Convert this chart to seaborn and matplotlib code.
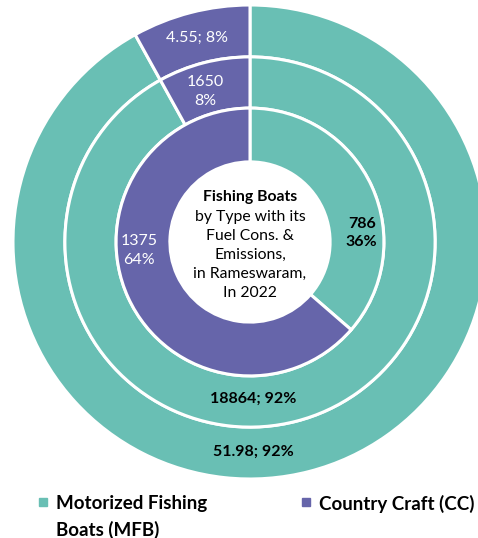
import matplotlib
matplotlib.use("Agg")
import matplotlib.pyplot as plt
from matplotlib.patches import Rectangle
import numpy as np
import seaborn as sns

sns.set_theme(style="white")
plt.rcParams["font.family"] = ["Lato", "DejaVu Sans"]

# Boat categories and ring data (outer -> inner)
categories = ["Motorized Fishing\nBoats (MFB)", "Country Craft (CC)"]
outer_values = [51.98, 4.55]      # fuel consumption
middle_values = [18864, 1650]     # emissions
inner_values = [786, 1375]        # number of boats
outer_pct = [92, 8]
middle_pct = [92, 8]
inner_pct = [36, 64]

colors = ["#69BFB4", "#6665AA"]

center_title = "Fishing Boats"
center_sub = ["by Type with its", "Fuel Cons. &", "Emissions,",
              "in Rameswaram,", "In 2022"]

W, H = 478, 538
fig = plt.figure(figsize=(W / 100, H / 100), dpi=100)
ax = fig.add_axes([0, 0, 1, 1])

px = 237.0          # pixels per data unit (outer radius)
cx, cy = 250.0, 242.0

radii = [1.0, 0.781, 0.565]
widths = [0.219, 0.216, 0.227]
rings = [outer_values, middle_values, inner_values]
for vals, r, w in zip(rings, radii, widths):
    ax.pie(vals, radius=r, startangle=90, counterclock=False, colors=colors,
           wedgeprops=dict(width=w, edgecolor="white", linewidth=2.2))
ax.set_xlim(-cx / px, (W - cx) / px)
ax.set_ylim(-(H - cy) / px, cy / px)
ax.set_aspect("equal")
ax.axis("off")


def polar(r, ang):
    a = np.deg2rad(ang)
    return r * np.sin(a), r * np.cos(a)


# Data labels: (text, radius, angle clockwise from top, colour, weight)
labels = [
    (f"{outer_values[0]:.2f}; {outer_pct[0]}%", 0.886, 179.2, "black", "bold"),
    (f"{outer_values[1]:.2f}; {outer_pct[1]}%", 0.890, 345.4, "white", "normal"),
    (f"{middle_values[0]}; {middle_pct[0]}%", 0.660, 178.9, "black", "bold"),
    (f"{middle_values[1]}\n{middle_pct[1]}%", 0.662, 343.3, "white", "normal"),
    (f"{inner_values[0]}\n{inner_pct[0]}%", 0.473, 85.4, "black", "bold"),
    (f"{inner_values[1]}\n{inner_pct[1]}%", 0.470, 265.4, "white", "normal"),
]
for txt, r, ang, col, wt in labels:
    x, y = polar(r, ang)
    ax.text(x, y, txt, ha="center", va="center", color=col, fontweight=wt,
            fontsize=11.5, linespacing=1.45)

# Centre caption, one line every 19 px
ax.text(0, (242 - 196) / px, center_title, ha="center", va="center_baseline",
        fontsize=11.3, fontweight="bold", color="black")
for i, line in enumerate(center_sub):
    ax.text(0, (242 - 215 - 19.2 * i) / px, line, ha="center",
            va="center_baseline", fontsize=11.3, color="black")

# Legend
leg_items = [(39, categories[0], colors[0]), (302, categories[1], colors[1])]
for x0, lab, col in leg_items:
    fig.patches.append(Rectangle((x0 / W, 1 - 506 / H), 8 / W, 8 / H,
                                 transform=fig.transFigure, color=col))
    for j, line in enumerate(lab.split("\n")):
        fig.text((x0 + 17) / W, 1 - (502 + 26 * j) / H, line, ha="left",
                 va="center_baseline", fontsize=13.5, fontweight="bold",
                 color="black", transform=fig.transFigure)

fig.savefig("out.png", dpi=100)
